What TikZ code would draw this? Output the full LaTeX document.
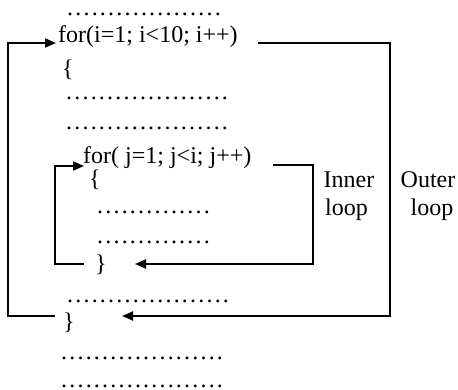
\documentclass[tikz,border=0pt]{standalone}
\usepackage{fontspec}
\setmainfont{Liberation Serif}
\usetikzlibrary{arrows.meta}
\newcommand\dd{.\kern2.2pt}
\newcommand\dotrow[1]{\foreach \k in {1,...,#1}{\dd}}
\begin{document}
\begin{tikzpicture}[x=1pt,y=-1pt,
  code/.style={anchor=west,inner sep=0pt,font=\fontsize{24}{28}\selectfont},
  lbl/.style={anchor=center,inner sep=0pt,font=\fontsize{24}{28}\selectfont},
  conn/.style={line width=1.8pt},
  arr/.style={line width=1.8pt,-{Triangle[length=11pt,width=9pt]}}]
\useasboundingbox (0,0) rectangle (458,390);
% code lines
\node[code] (d1) at (67,14) {\dotrow{19}};
\node[code] (fo) at (58,37) {for(i=1; i<10; i++)};
\node[code] (ob) at (62,70) {\{};
\node[code] (d2) at (66,98) {\dotrow{20}};
\node[code] (d3) at (66,128) {\dotrow{20}};
\node[code] (fi) at (83,158) {for( j=1; j<i; j++)};
\node[code] (ib) at (89,180) {\{};
\node[code] (d4) at (97,212) {\dotrow{14}};
\node[code] (d5) at (97,242) {\dotrow{14}};
\node[code] (ic) at (95,265) {\}};
\node[code] (d6) at (67,301) {\dotrow{20}};
\node[code] (oc) at (63,323) {\}};
\node[code] (d7) at (61,358) {\dotrow{20}};
\node[code] (d8) at (61,386) {\dotrow{20}};
% labels
\node[lbl] (in1) at (349,180) {Inner};
\node[lbl,anchor=west] (in2) at (325,210) {loop};
\node[lbl] (ou1) at (428,180) {Outer};
\node[lbl] (ou2) at (432,210) {loop};
% coordinates
\coordinate (oA) at (55,316);
\coordinate (oL) at (8,316);
\coordinate (oT) at (8,43);
\coordinate (oTip) at (56,43);
\coordinate (oR0) at (258,43);
\coordinate (oR1) at (390,43);
\coordinate (oR2) at (390,316);
\coordinate (oRTip) at (122,316);
\coordinate (iA) at (84,264);
\coordinate (iL) at (55,264);
\coordinate (iT) at (55,166);
\coordinate (iTip) at (84,166);
\coordinate (iR0) at (273,165);
\coordinate (iR1) at (313,165);
\coordinate (iR2) at (313,264);
\coordinate (iRTip) at (135,264);
% outer loop
\draw[arr] (oA) -- (oL) -- (oT) -- (oTip);
\draw[arr] (oR0) -- (oR1) -- (oR2) -- (oRTip);
% inner loop
\draw[arr] (iA) -- (iL) -- (iT) -- (iTip);
\draw[arr] (iR0) -- (iR1) -- (iR2) -- (iRTip);
\end{tikzpicture}
\end{document}
